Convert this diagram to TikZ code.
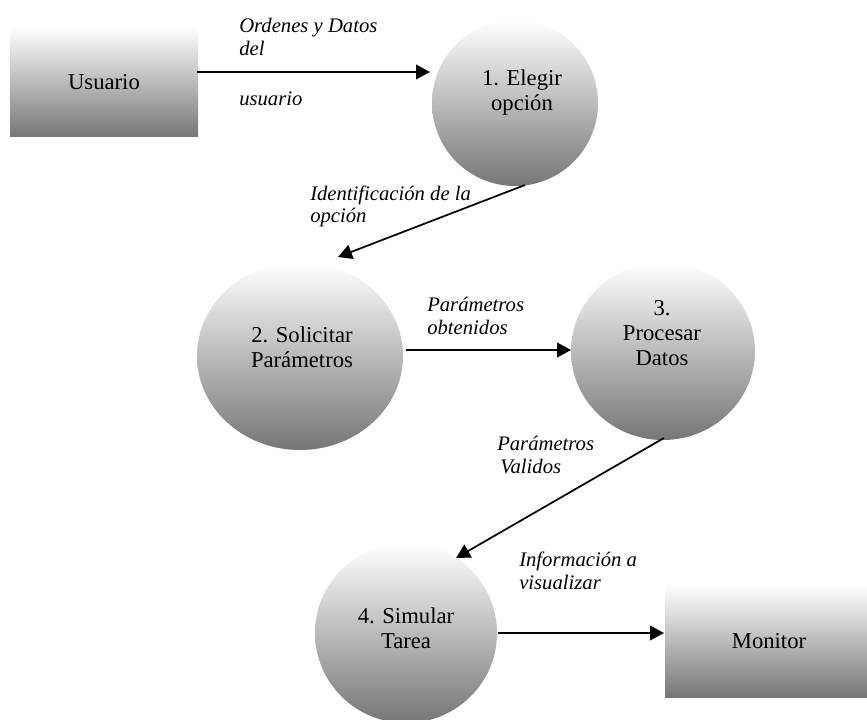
\documentclass[tikz,border=0pt]{standalone}
\usepackage{fontspec}
\setmainfont{Liberation Serif}
\usetikzlibrary{shapes.geometric,arrows.meta,calc}
\definecolor{shadelow}{RGB}{118,118,118}
\begin{document}
\begin{tikzpicture}[x=0.75pt,y=-0.75pt,
  grayfill/.style={top color=white,bottom color=shadelow,draw=none},
  entity/.style={grayfill,rectangle,inner sep=0pt,font=\fontsize{17}{18.75}\selectfont},
  proc/.style={grayfill,ellipse,inner sep=0pt},
  ptext/.style={align=center,inner sep=0pt,font=\fontsize{17}{18.75}\selectfont},
  flowlabel/.style={align=left,anchor=base west,inner sep=0pt,font=\fontsize{15.5}{17}\selectfont\itshape},
  flow/.style={line width=1.3pt,-{Triangle[length=10.5pt,width=11pt]}}]
\useasboundingbox (0,0) rectangle (867,720);

% external entities
\node[entity,minimum width=141pt,minimum height=82.5pt] (usr) at (104,82) {Usuario};
\node[entity,minimum width=156pt,minimum height=84pt] (mon) at (769,641) {Monitor};

% processes
\node[proc,minimum width=124.5pt,minimum height=124.5pt] (c1) at (515,103) {};
\node[proc,minimum width=154.5pt,minimum height=141pt] (c2) at (300,356) {};
\node[proc,minimum width=138pt,minimum height=133.5pt] (c3) at (663,351) {};
\node[proc,minimum width=136.5pt,minimum height=135pt] (c4) at (406,633) {};

\node[ptext] (c1t) at (522,93) {1. Elegir\\opción};
\node[ptext] (c2t) at (302,347) {2. Solicitar\\Parámetros};
\node[ptext] (c3t) at (662,333) {3.\\Procesar\\Datos};
\node[ptext] (c4t) at (406,628) {4. Simular\\Tarea};

% data flows
\draw[flow] ($(usr.center)+(93,-10)$) -- ($(c1.center)+(-85,-31)$);
\draw[flow] ($(c1.center)+(10,82)$) -- ($(c2.center)+(38,-99)$);
\draw[flow] ($(c2.center)+(106,-6)$) -- ($(c3.center)+(-92,-1)$);
\draw[flow] ($(c3.center)+(1,87)$) -- ($(c4.center)+(50,-75)$);
\draw[flow] ($(c4.center)+(92,0)$) -- ($(mon.center)+(-105,-8)$);

% flow labels (anchored at the baseline of their last line)
\node[flowlabel] (l1) at (239,106) {Ordenes y Datos\\del\\[21pt]usuario};
\node[flowlabel] (l2) at (310,223) {Identificación de la\\opción};
\node[flowlabel] (l3) at (427,334) {Parámetros\\obtenidos};
\node[flowlabel] (l4) at (497,473) {Parámetros\\\hspace*{2.25pt}Validos};
\node[flowlabel] (l5) at (519,589) {Información a\\visualizar};
\end{tikzpicture}
\end{document}
